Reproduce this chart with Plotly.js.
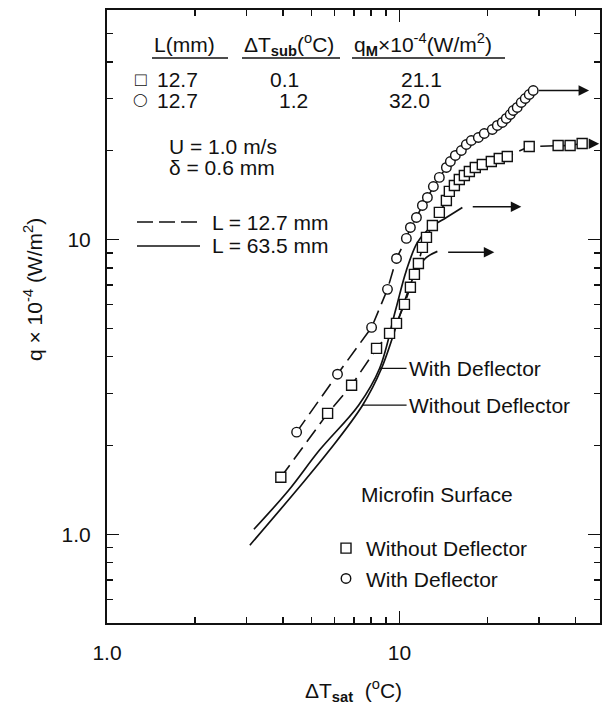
<!DOCTYPE html>
<html>
<head>
<meta charset="utf-8">
<script src="https://cdn.plot.ly/plotly-3.0.1.min.js"></script>
<style>
  html, body { margin: 0; padding: 0; background: #ffffff; }
  #chart { width: 604px; height: 712px; }
</style>
</head>
<body>
<div id="chart"></div>
<script>
// ---- Data ----
// Microfin surface, L = 12.7 mm, with deflector (circles)
const xCircle = [4.45, 6.14, 8.03, 9.10, 9.77, 10.56, 10.90, 11.43, 11.98, 12.46, 13.06, 13.69, 14.47, 14.93, 15.53, 16.28, 16.93, 17.61, 18.61, 19.50, 20.77, 21.61, 22.47, 23.19, 23.92, 24.49, 25.27, 26.09, 26.92, 27.78, 28.67];
const yCircle = [2.22, 3.49, 5.03, 6.77, 8.62, 10.08, 10.98, 11.87, 13.04, 13.88, 15.12, 16.23, 17.54, 18.38, 19.27, 20.03, 20.99, 21.65, 22.17, 22.87, 23.60, 24.35, 24.93, 25.72, 26.53, 27.37, 28.03, 29.14, 30.06, 31.01, 32.0];
// Microfin surface, L = 12.7 mm, without deflector (squares)
const xSquare = [3.93, 5.68, 6.86, 8.35, 9.25, 9.77, 10.40, 10.90, 11.25, 11.61, 11.98, 12.37, 12.96, 13.69, 14.47, 14.81, 15.41, 16.02, 16.67, 17.34, 18.17, 19.20, 20.61, 21.94, 23.37, 27.78, 34.88, 38.33, 42.14];
const ySquare = [1.56, 2.57, 3.20, 4.27, 4.80, 5.19, 6.02, 6.88, 7.61, 8.29, 9.40, 10.16, 11.15, 12.35, 13.56, 14.55, 15.24, 15.97, 16.48, 17.00, 17.54, 17.96, 18.38, 18.82, 19.11, 20.67, 20.83, 20.83, 21.16];
// L = 63.5 mm curves (solid)
const xSolidWith = [3.18, 4.18, 5.33, 7.25, 8.55, 9.69, 10.56, 11.52, 12.66, 14.47, 16.41];
const ySolidWith = [1.04, 1.41, 1.93, 2.74, 3.65, 5.74, 7.85, 9.77, 10.9, 11.87, 12.84];
const xSolidWithout = [3.08, 4.45, 5.77, 7.48, 8.68, 10.16, 11.43, 12.37, 13.48];
const ySolidWithout = [0.918, 1.41, 1.93, 2.74, 3.65, 5.74, 7.85, 8.69, 9.11];
// Maximum heat flux arrows: start x, end x, level q
const arrowX0 = [29.6, 45.2, 17.6, 14.5];
const arrowX1 = [44.5, 48.2, 26.1, 21.1];
const arrowQ  = [32.0, 21.1, 12.9, 9.04];
// Axis ticks
const xMajor = [1, 10];
const xMajorText = ['1.0', '10'];
const xMinor = [2, 3, 4, 5, 6, 7, 8, 9, 20, 30, 40];
const yMajor = [1, 10];
const yMajorText = ['1.0', '10'];
const yMinor = [0.6, 0.7, 0.8, 0.9, 2, 3, 4, 5, 6, 7, 8, 9, 20, 30, 40, 50];

// ---- Layout geometry ----
const W = 604, H = 712;
const M = {l: 107, r: 4, t: 10, b: 89};
const PW = W - M.l - M.r, PH = H - M.t - M.b;
const px = v => (v - M.l) / PW;        // pixel x -> paper
const py = v => (H - M.b - v) / PH;    // pixel y -> paper
const FONT = 'Liberation Sans, Arial, sans-serif';
const FS = 21;
const L10 = Math.log10;

const markerLine = {color: '#111', width: 1.4};
const traces = [
  {x: xSolidWith, y: ySolidWith, mode: 'lines', line: {color: '#111', width: 1.7, shape: 'spline', smoothing: 1}, showlegend: false, hoverinfo: 'skip'},
  {x: xSolidWithout, y: ySolidWithout, mode: 'lines', line: {color: '#111', width: 1.7, shape: 'spline', smoothing: 1}, showlegend: false, hoverinfo: 'skip'},
  {x: xSquare, y: ySquare, mode: 'lines', line: {color: '#111', width: 1.6, dash: '15px,7px'}, showlegend: false, hoverinfo: 'skip'},
  {x: xCircle, y: yCircle, mode: 'lines', line: {color: '#111', width: 1.6, dash: '15px,7px'}, showlegend: false, hoverinfo: 'skip'},
  {x: xSquare, y: ySquare, mode: 'markers', name: 'Without Deflector',
   marker: {symbol: 'square', size: 10, color: '#fff', line: markerLine}},
  {x: xCircle, y: yCircle, mode: 'markers', name: 'With Deflector',
   marker: {symbol: 'circle', size: 9.5, color: '#fff', line: markerLine}}
];

const txt = (text, x, y, anchor, size, family) => ({
  text: text, xref: 'paper', yref: 'paper', x: px(x), y: py(y),
  xanchor: anchor || 'left', yanchor: 'middle', showarrow: false,
  font: {family: family || FONT, size: size || FS, color: '#111'}
});

const annotations = [
  txt('L(mm)', 152, 44),
  txt('ΔT<sub><b>sub</b></sub>(<sup>o</sup>C)', 242, 44),
  txt('q<sub><b>M</b></sub>×10<sup>-4</sup>(W/m<sup>2</sup>)', 352, 44),
  txt('□', 141, 80, 'center', 19),
  txt('12.7', 155, 80), txt('0.1', 268, 80), txt('21.1', 399, 80),
  txt('◯', 140, 100, 'center', 13, 'DejaVu Sans'),
  txt('12.7', 155, 100), txt('1.2', 277, 100), txt('32.0', 387, 100),
  txt('U = 1.0 m/s', 167, 146),
  txt('δ = 0.6 mm', 167, 167),
  txt('L = 12.7 mm', 210, 222),
  txt('L = 63.5 mm', 210, 245),
  txt('Microfin Surface', 359, 494),
  // y-axis title (placed as in the reference, above the plot centre)
  {text: 'q × 10<sup>-4</sup> (W/m<sup>2</sup>)', xref: 'paper', yref: 'paper', x: px(33), y: py(290),
   xanchor: 'center', yanchor: 'middle', textangle: -90, showarrow: false,
   font: {family: FONT, size: FS, color: '#111'}},
  // leader labels for the L = 63.5 mm curves
  {text: 'With Deflector', x: L10(xSolidWith[4]), y: L10(ySolidWith[4]), xref: 'x', yref: 'y',
   ax: 27, ay: 0, xanchor: 'left', yanchor: 'middle', showarrow: true, arrowhead: 0, arrowwidth: 1.2,
   arrowcolor: '#111', standoff: 0, font: {family: FONT, size: FS, color: '#111'}},
  {text: 'Without Deflector', x: L10(xSolidWithout[3]), y: L10(ySolidWithout[3]), xref: 'x', yref: 'y',
   ax: 44, ay: 0, xanchor: 'left', yanchor: 'middle', showarrow: true, arrowhead: 0, arrowwidth: 1.2,
   arrowcolor: '#111', standoff: 0, font: {family: FONT, size: FS, color: '#111'}}
];
for (let i = 0; i < arrowQ.length; i++) {
  annotations.push({
    x: L10(arrowX1[i]), y: L10(arrowQ[i]), ax: L10(arrowX0[i]), ay: L10(arrowQ[i]),
    xref: 'x', yref: 'y', axref: 'x', ayref: 'y', text: '', showarrow: true,
    arrowhead: 2, arrowsize: 1.4, arrowwidth: 1.5, arrowcolor: '#111', standoff: 0, startstandoff: 0
  });
}

const shapes = [
  // header underlines
  {type: 'line', xref: 'paper', yref: 'paper', x0: px(152), x1: px(228), y0: py(58), y1: py(58), line: {color: '#111', width: 1.3}},
  {type: 'line', xref: 'paper', yref: 'paper', x0: px(242), x1: px(340), y0: py(58), y1: py(58), line: {color: '#111', width: 1.3}},
  {type: 'line', xref: 'paper', yref: 'paper', x0: px(352), x1: px(505), y0: py(58), y1: py(58), line: {color: '#111', width: 1.3}},
  // line-style key
  {type: 'line', xref: 'paper', yref: 'paper', x0: px(137), x1: px(200), y0: py(222), y1: py(222), line: {color: '#111', width: 1.6, dash: '16px,6px'}},
  {type: 'line', xref: 'paper', yref: 'paper', x0: px(137), x1: px(200), y0: py(246), y1: py(246), line: {color: '#111', width: 1.6}}
];

const axisCommon = {
  type: 'log', showline: true, linecolor: '#111', linewidth: 2, mirror: 'ticks',
  ticks: 'inside', ticklen: 12, tickwidth: 1.5, tickcolor: '#111', tickmode: 'array',
  showgrid: false, zeroline: false,
  tickfont: {family: FONT, size: FS, color: '#111'}
};

const layout = {
  width: W, height: H, margin: M,
  paper_bgcolor: '#fff', plot_bgcolor: '#fff',
  font: {family: FONT, size: FS, color: '#111'},
  xaxis: Object.assign({}, axisCommon, {
    range: [0, L10(48.5)], tickvals: xMajor, ticktext: xMajorText, ticklabelstandoff: 10,
    minor: {tickmode: 'array', tickvals: xMinor, ticks: 'inside', ticklen: 6, tickwidth: 1.3, tickcolor: '#111', showgrid: false},
    title: {text: 'ΔT<sub><b>sat</b></sub>  (<sup>o</sup>C)', standoff: 20, font: {family: FONT, size: FS, color: '#111'}}
  }),
  yaxis: Object.assign({}, axisCommon, {
    range: [L10(0.5), L10(60)], tickvals: yMajor, ticktext: yMajorText, ticklabelstandoff: 10,
    minor: {tickmode: 'array', tickvals: yMinor, ticks: 'inside', ticklen: 6, tickwidth: 1.3, tickcolor: '#111', showgrid: false}
  }),
  showlegend: true,
  legend: {x: px(326), y: py(528), xanchor: 'left', yanchor: 'top', bgcolor: 'rgba(0,0,0,0)',
           borderwidth: 0, font: {family: FONT, size: FS, color: '#111'}, tracegroupgap: 0},
  annotations: annotations,
  shapes: shapes
};

Plotly.newPlot('chart', traces, layout, {staticPlot: true, displayModeBar: false});
</script>
</body>
</html>
